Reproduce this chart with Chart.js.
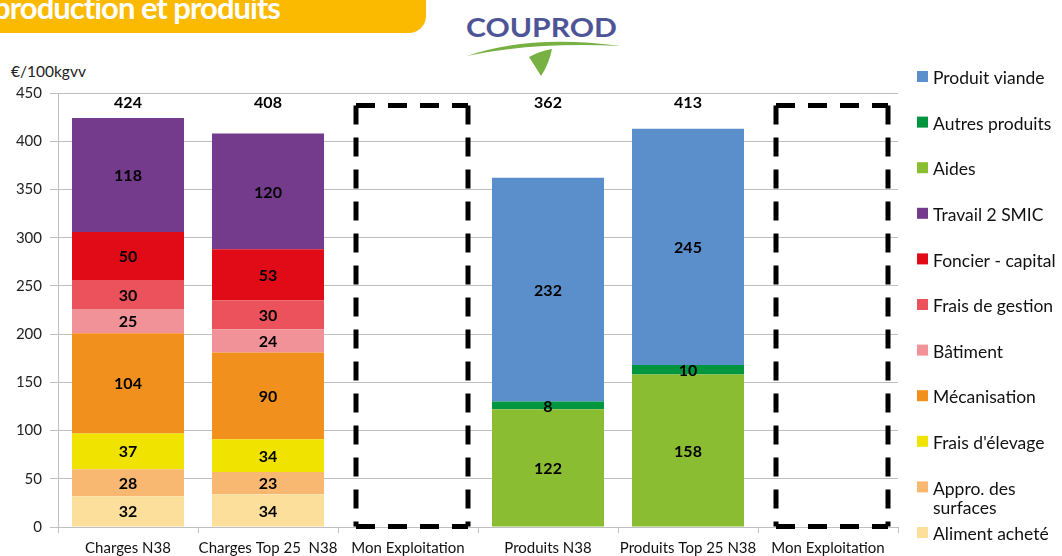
<!DOCTYPE html>
<html>
<head>
<meta charset="utf-8">
<title>Coûts de production et produits</title>
<script src="https://cdn.jsdelivr.net/npm/chart.js@4.4.1/dist/chart.umd.min.js"></script>
<style>
    body { margin: 0; background: #fff; font-family: Lato, "Noto Sans", sans-serif; }
    #page { position: relative; width: 1062px; height: 556px; overflow: hidden; }
    #bandeau { position: absolute; left: 0; top: -6px; width: 426px; height: 39px; background: #FBB900;
               border-bottom-right-radius: 17px; overflow: hidden; }
    #bandeau span { position: absolute; right: 146px; top: -6px; white-space: nowrap; color: #fff;
                    font: bold 31px Lato, sans-serif; letter-spacing: -1px; }
    #logo { position: absolute; left: 455px; top: 0; }
    #unite { position: absolute; left: 11px; top: 62px; font-size: 15.5px; color: #222; }
    #graphe { position: absolute; left: 0; top: 0; }
</style>
</head>
<body>
<div id="page">
    <div id="bandeau"><span>Coûts de production et produits</span></div>
    <svg id="logo" width="180" height="80" viewBox="455 0 180 80">
        <text x="466" y="37" font-family="Lato, sans-serif" font-size="26" font-weight="bold" fill="#4E5597"
              textLength="151" lengthAdjust="spacingAndGlyphs">COUPROD</text>
        <path d="M467,56 Q530,34 621,46 Q530,42 467,56 Z" fill="#77B043"/>
        <path d="M529,57 Q540,51 552,49 Q549,64 541,76 Q535,66 529,57 Z" fill="#77B043"/>
    </svg>
    <div id="unite">€/100kgvv</div>
    <canvas id="graphe" width="1062" height="556"></canvas>
</div>
<script>
// categories et valeurs (€/100kgvv)
const categories = ['Charges N38', 'Charges Top 25  N38', 'Mon Exploitation', 'Produits N38', 'Produits Top 25 N38', 'Mon Exploitation'];

const alimentAchete   = [32, 34, null, null, null, null];
const approSurfaces   = [28, 23, null, null, null, null];
const fraisElevage    = [37, 34, null, null, null, null];
const mecanisation    = [104, 90, null, null, null, null];
const batiment        = [25, 24, null, null, null, null];
const fraisGestion    = [30, 30, null, null, null, null];
const foncierCapital  = [50, 53, null, null, null, null];
const travail2Smic    = [118, 120, null, null, null, null];
const aides           = [null, null, null, 122, 158, null];
const autresProduits  = [null, null, null, 8, 10, null];
const produitViande   = [null, null, null, 232, 245, null];

// cadres vides "Mon Exploitation"
const monExploitation = [null, null, 437, null, null, 437];
const totaux = [424, 408, null, 362, 413, null];
const niveauTotaux = 440;

const yMin = 0, yMax = 450, yPas = 50;

function serie(label, data, couleur) {
    return {
        label: label,
        data: data,
        backgroundColor: couleur,
        borderWidth: 0,
        stack: 'a'
    };
}

const etiquettes = {
    id: 'etiquettes',
    afterDatasetsDraw(chart) {
        const ctx = chart.ctx;
        const y = chart.scales.y;
        ctx.save();
        ctx.font = 'bold 16px Lato';
        ctx.fillStyle = '#000';
        ctx.textAlign = 'center';
        ctx.textBaseline = 'middle';
        chart.data.datasets.forEach(function (ds, i) {
            let meta = chart.getDatasetMeta(i);
            meta.data.forEach(function (bar, j) {
                let v = ds.data[j];
                if (v == null) return;
                if (ds.pointille) {
                    // cadre en pointillés
                    let g = bar.x - bar.width / 2 + 4, d = bar.x + bar.width / 2 + 4;
                    let h = bar.y, b = bar.base;
                    ctx.save();
                    ctx.strokeStyle = '#000';
                    ctx.lineWidth = 5;
                    ctx.setLineDash([19, 13]);
                    [[g, h, d, h], [g, h, g, b], [d, h, d, b], [g, b, d, b]].forEach(function (l) {
                        ctx.beginPath();
                        ctx.moveTo(l[0], l[1]);
                        ctx.lineTo(l[2], l[3]);
                        ctx.stroke();
                    });
                    ctx.restore();
                    return;
                }
                ctx.fillText(v, bar.x, (bar.y + bar.base) / 2 + 1);
            });
        });
        // totaux au-dessus des barres
        totaux.forEach(function (t, j) {
            if (t == null) return;
            ctx.fillText(t, chart.scales.x.getPixelForValue(j), y.getPixelForValue(niveauTotaux));
        });
        ctx.restore();
    }
};

const legende = {
    id: 'legende',
    afterDraw(chart) {
        const ctx = chart.ctx;
        let items = chart.data.datasets.filter(function (ds) { return !ds.pointille; }).reverse();
        ctx.save();
        ctx.font = '17.5px Lato';
        ctx.textBaseline = 'middle';
        let x0 = chart.chartArea.right + 19;
        let y0 = 76.5, pas = 45.6;
        items.forEach(function (ds, i) {
            let yc = y0 + i * pas;
            ctx.fillStyle = ds.backgroundColor;
            ctx.fillRect(x0, yc - 5.5, 11, 11);
            ctx.fillStyle = '#111';
            // retour à la ligne si trop long
            let mots = ds.label.split(' '), lignes = [], cur = '';
            mots.forEach(function (m) {
                let essai = cur ? cur + ' ' + m : m;
                if (ctx.measureText(essai).width > 130 && cur) {
                    lignes.push(cur);
                    cur = m;
                } else {
                    cur = essai;
                }
            });
            lignes.push(cur);
            lignes.forEach(function (l, k) {
                ctx.fillText(l, x0 + 16, yc + 2 + k * 19);
            });
        });
        ctx.restore();
    }
};

const cadre = serie('Mon Exploitation', monExploitation, 'rgba(0,0,0,0)');
cadre.pointille = true;

new Chart(document.getElementById('graphe'), {
    type: 'bar',
    data: {
        labels: categories,
        datasets: [
            serie('Aliment acheté', alimentAchete, '#FDDF9C'),
            serie('Appro. des surfaces', approSurfaces, '#F8B872'),
            serie("Frais d'élevage", fraisElevage, '#F0E300'),
            serie('Mécanisation', mecanisation, '#F2901D'),
            serie('Bâtiment', batiment, '#F19198'),
            serie('Frais de gestion', fraisGestion, '#EC525B'),
            serie('Foncier - capital', foncierCapital, '#E10B17'),
            serie('Travail 2 SMIC', travail2Smic, '#743A8C'),
            serie('Aides', aides, '#8BBD33'),
            serie('Autres produits', autresProduits, '#00963F'),
            serie('Produit viande', produitViande, '#5B8FCC'),
            cadre
        ]
    },
    options: {
        responsive: false,
        animation: false,
        layout: { padding: { top: 93, right: 164, left: 0, bottom: 0 } },
        categoryPercentage: 0.8,
        barPercentage: 1,
        plugins: {
            legend: { display: false },
            tooltip: { enabled: false }
        },
        scales: {
            x: {
                stacked: true,
                grid: { drawOnChartArea: false, tickLength: 6, color: '#BFBFBF' },
                border: { color: '#BFBFBF' },
                ticks: { autoSkip: false, maxRotation: 0, padding: 6, color: '#111', font: { family: 'Lato', size: 15 } },
                afterFit: function (s) { s.height = 29; }
            },
            y: {
                stacked: true,
                min: yMin,
                max: yMax,
                ticks: { stepSize: yPas, padding: 8, color: '#222', font: { family: 'Lato', size: 15 } },
                grid: { color: '#BFBFBF', tickLength: 8 },
                border: { color: '#BFBFBF' },
                afterFit: function (s) { s.width = 58; }
            }
        }
    },
    plugins: [etiquettes, legende]
});
</script>
</body>
</html>
